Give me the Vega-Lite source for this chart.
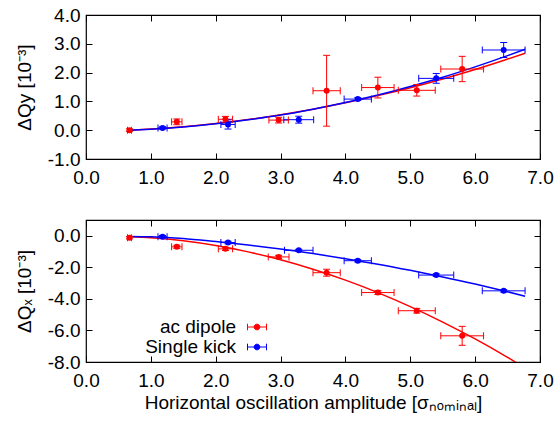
{
  "$schema": "https://vega.github.io/schema/vega-lite/v6.json",
  "padding": {"left": 15, "top": 5, "right": 10, "bottom": 6},
  "config": {
    "font": "Liberation Sans",
    "view": {"stroke": "black", "strokeWidth": 1.2},
    "axis": {"grid": false, "domain": false, "labelFont": "Liberation Sans", "labelFontSize": 19, "labelColor": "black", "titleFont": "Liberation Sans", "titleFontSize": 19, "titleFontWeight": "normal", "titleColor": "black", "tickColor": "black", "tickSize": -6, "labelFlush": false, "labelOverlap": false},
    "axisX": {"labelPadding": 15},
    "axisY": {"labelPadding": 12},
    "legend": {"labelFont": "Liberation Sans", "labelFontSize": 19, "labelColor": "black"}
  },
  "datasets": {
    "pts": [
      {"panel": "y", "series": "ac dipole", "amp": 0.67, "dq": 0.0, "xlo": 0.64, "xhi": 0.70, "ylo": -0.05, "yhi": 0.05},
      {"panel": "y", "series": "ac dipole", "amp": 1.40, "dq": 0.29, "xlo": 1.32, "xhi": 1.48, "ylo": 0.19, "yhi": 0.39},
      {"panel": "y", "series": "ac dipole", "amp": 2.15, "dq": 0.38, "xlo": 2.04, "xhi": 2.26, "ylo": 0.28, "yhi": 0.48},
      {"panel": "y", "series": "ac dipole", "amp": 2.97, "dq": 0.35, "xlo": 2.82, "xhi": 3.12, "ylo": 0.25, "yhi": 0.45},
      {"panel": "y", "series": "ac dipole", "amp": 3.71, "dq": 1.37, "xlo": 3.50, "xhi": 3.92, "ylo": 0.14, "yhi": 2.60},
      {"panel": "y", "series": "ac dipole", "amp": 4.50, "dq": 1.48, "xlo": 4.25, "xhi": 4.75, "ylo": 1.12, "yhi": 1.84},
      {"panel": "y", "series": "ac dipole", "amp": 5.10, "dq": 1.385, "xlo": 4.815, "xhi": 5.385, "ylo": 1.185, "yhi": 1.585},
      {"panel": "y", "series": "ac dipole", "amp": 5.80, "dq": 2.125, "xlo": 5.47, "xhi": 6.13, "ylo": 1.685, "yhi": 2.565},
      {"panel": "y", "series": "Single kick", "amp": 1.18, "dq": 0.08, "xlo": 1.11, "xhi": 1.25, "ylo": 0.04, "yhi": 0.12},
      {"panel": "y", "series": "Single kick", "amp": 2.19, "dq": 0.20, "xlo": 2.08, "xhi": 2.30, "ylo": 0.04, "yhi": 0.36},
      {"panel": "y", "series": "Single kick", "amp": 3.28, "dq": 0.365, "xlo": 3.05, "xhi": 3.51, "ylo": 0.245, "yhi": 0.485},
      {"panel": "y", "series": "Single kick", "amp": 4.19, "dq": 1.08, "xlo": 3.98, "xhi": 4.40, "ylo": 1.03, "yhi": 1.13},
      {"panel": "y", "series": "Single kick", "amp": 5.40, "dq": 1.80, "xlo": 5.13, "xhi": 5.67, "ylo": 1.63, "yhi": 1.97},
      {"panel": "y", "series": "Single kick", "amp": 6.44, "dq": 2.785, "xlo": 6.11, "xhi": 6.77, "ylo": 2.525, "yhi": 3.045},
      {"panel": "x", "series": "ac dipole", "amp": 0.67, "dq": -0.12, "xlo": 0.64, "xhi": 0.70, "ylo": -0.20, "yhi": -0.04},
      {"panel": "x", "series": "ac dipole", "amp": 1.40, "dq": -0.70, "xlo": 1.32, "xhi": 1.48, "ylo": -0.80, "yhi": -0.60},
      {"panel": "x", "series": "ac dipole", "amp": 2.15, "dq": -0.83, "xlo": 2.04, "xhi": 2.26, "ylo": -0.93, "yhi": -0.73},
      {"panel": "x", "series": "ac dipole", "amp": 2.97, "dq": -1.34, "xlo": 2.81, "xhi": 3.13, "ylo": -1.44, "yhi": -1.24},
      {"panel": "x", "series": "ac dipole", "amp": 3.71, "dq": -2.34, "xlo": 3.50, "xhi": 3.92, "ylo": -2.56, "yhi": -2.12},
      {"panel": "x", "series": "ac dipole", "amp": 4.50, "dq": -3.60, "xlo": 4.25, "xhi": 4.75, "ylo": -3.72, "yhi": -3.48},
      {"panel": "x", "series": "ac dipole", "amp": 5.10, "dq": -4.75, "xlo": 4.815, "xhi": 5.385, "ylo": -4.90, "yhi": -4.60},
      {"panel": "x", "series": "ac dipole", "amp": 5.80, "dq": -6.34, "xlo": 5.47, "xhi": 6.13, "ylo": -6.94, "yhi": -5.74},
      {"panel": "x", "series": "Single kick", "amp": 1.18, "dq": -0.06, "xlo": 1.11, "xhi": 1.25, "ylo": -0.14, "yhi": 0.02},
      {"panel": "x", "series": "Single kick", "amp": 2.19, "dq": -0.43, "xlo": 2.08, "xhi": 2.30, "ylo": -0.51, "yhi": -0.35},
      {"panel": "x", "series": "Single kick", "amp": 3.28, "dq": -0.92, "xlo": 3.06, "xhi": 3.50, "ylo": -0.98, "yhi": -0.86},
      {"panel": "x", "series": "Single kick", "amp": 4.19, "dq": -1.58, "xlo": 3.98, "xhi": 4.40, "ylo": -1.66, "yhi": -1.50},
      {"panel": "x", "series": "Single kick", "amp": 5.40, "dq": -2.49, "xlo": 5.13, "xhi": 5.67, "ylo": -2.57, "yhi": -2.41},
      {"panel": "x", "series": "Single kick", "amp": 6.44, "dq": -3.49, "xlo": 6.11, "xhi": 6.77, "ylo": -3.57, "yhi": -3.41}
    ],
    "fits": [
      {"panel": "y", "series": "ac dipole", "amp": 0.67, "dq": 0.0},
      {"panel": "y", "series": "ac dipole", "amp": 1.0, "dq": 0.04},
      {"panel": "y", "series": "ac dipole", "amp": 1.5, "dq": 0.12},
      {"panel": "y", "series": "ac dipole", "amp": 2.0, "dq": 0.23},
      {"panel": "y", "series": "ac dipole", "amp": 2.5, "dq": 0.37},
      {"panel": "y", "series": "ac dipole", "amp": 3.0, "dq": 0.54},
      {"panel": "y", "series": "ac dipole", "amp": 3.5, "dq": 0.73},
      {"panel": "y", "series": "ac dipole", "amp": 4.0, "dq": 0.95},
      {"panel": "y", "series": "ac dipole", "amp": 4.5, "dq": 1.20},
      {"panel": "y", "series": "ac dipole", "amp": 5.0, "dq": 1.475},
      {"panel": "y", "series": "ac dipole", "amp": 5.5, "dq": 1.78},
      {"panel": "y", "series": "ac dipole", "amp": 6.0, "dq": 2.11},
      {"panel": "y", "series": "ac dipole", "amp": 6.5, "dq": 2.47},
      {"panel": "y", "series": "ac dipole", "amp": 6.77, "dq": 2.67},
      {"panel": "y", "series": "Single kick", "amp": 0.67, "dq": 0.0},
      {"panel": "y", "series": "Single kick", "amp": 1.0, "dq": 0.033},
      {"panel": "y", "series": "Single kick", "amp": 1.5, "dq": 0.11},
      {"panel": "y", "series": "Single kick", "amp": 2.0, "dq": 0.22},
      {"panel": "y", "series": "Single kick", "amp": 2.5, "dq": 0.36},
      {"panel": "y", "series": "Single kick", "amp": 3.0, "dq": 0.525},
      {"panel": "y", "series": "Single kick", "amp": 3.5, "dq": 0.73},
      {"panel": "y", "series": "Single kick", "amp": 4.0, "dq": 0.96},
      {"panel": "y", "series": "Single kick", "amp": 4.5, "dq": 1.22},
      {"panel": "y", "series": "Single kick", "amp": 5.0, "dq": 1.52},
      {"panel": "y", "series": "Single kick", "amp": 5.5, "dq": 1.84},
      {"panel": "y", "series": "Single kick", "amp": 6.0, "dq": 2.20},
      {"panel": "y", "series": "Single kick", "amp": 6.5, "dq": 2.59},
      {"panel": "y", "series": "Single kick", "amp": 6.77, "dq": 2.81},
      {"panel": "x", "series": "ac dipole", "amp": 0.67, "dq": -0.06},
      {"panel": "x", "series": "ac dipole", "amp": 1.0, "dq": -0.13},
      {"panel": "x", "series": "ac dipole", "amp": 1.5, "dq": -0.32},
      {"panel": "x", "series": "ac dipole", "amp": 2.0, "dq": -0.62},
      {"panel": "x", "series": "ac dipole", "amp": 2.5, "dq": -1.02},
      {"panel": "x", "series": "ac dipole", "amp": 3.0, "dq": -1.52},
      {"panel": "x", "series": "ac dipole", "amp": 3.5, "dq": -2.12},
      {"panel": "x", "series": "ac dipole", "amp": 4.0, "dq": -2.81},
      {"panel": "x", "series": "ac dipole", "amp": 4.5, "dq": -3.60},
      {"panel": "x", "series": "ac dipole", "amp": 5.0, "dq": -4.49},
      {"panel": "x", "series": "ac dipole", "amp": 5.5, "dq": -5.47},
      {"panel": "x", "series": "ac dipole", "amp": 6.0, "dq": -6.54},
      {"panel": "x", "series": "ac dipole", "amp": 6.5, "dq": -7.71},
      {"panel": "x", "series": "ac dipole", "amp": 6.77, "dq": -8.38},
      {"panel": "x", "series": "Single kick", "amp": 0.67, "dq": -0.04},
      {"panel": "x", "series": "Single kick", "amp": 1.0, "dq": -0.06},
      {"panel": "x", "series": "Single kick", "amp": 1.5, "dq": -0.17},
      {"panel": "x", "series": "Single kick", "amp": 2.0, "dq": -0.37},
      {"panel": "x", "series": "Single kick", "amp": 2.5, "dq": -0.59},
      {"panel": "x", "series": "Single kick", "amp": 3.0, "dq": -0.84},
      {"panel": "x", "series": "Single kick", "amp": 3.5, "dq": -1.13},
      {"panel": "x", "series": "Single kick", "amp": 4.0, "dq": -1.45},
      {"panel": "x", "series": "Single kick", "amp": 4.5, "dq": -1.80},
      {"panel": "x", "series": "Single kick", "amp": 5.0, "dq": -2.19},
      {"panel": "x", "series": "Single kick", "amp": 5.5, "dq": -2.61},
      {"panel": "x", "series": "Single kick", "amp": 6.0, "dq": -3.06},
      {"panel": "x", "series": "Single kick", "amp": 6.5, "dq": -3.55},
      {"panel": "x", "series": "Single kick", "amp": 6.77, "dq": -3.83}
    ]
  },
  "spacing": 30,
  "resolve": {"legend": {"color": "independent"}},
  "vconcat": [
    {
      "width": 454,
      "height": 144,
      "resolve": {"axis": {"x": "independent", "y": "independent"}},
      "layer": [
        {
          "data": {"name": "fits"},
          "transform": [{"filter": "datum.panel == 'y'"}],
          "mark": {"type": "line", "strokeWidth": 1.5, "clip": true, "interpolate": "monotone"},
          "encoding": {
            "x": {"field": "amp", "type": "quantitative", "scale": {"domain": [0, 7], "nice": false}, "axis": {"orient": "top", "values": [0, 1, 2, 3, 4, 5, 6, 7], "labels": false, "title": null}},
            "y": {"field": "dq", "type": "quantitative", "scale": {"domain": [-1, 4], "nice": false, "zero": false}, "axis": {"orient": "right", "values": [-1, 0, 1, 2, 3, 4], "labels": false, "title": null}},
            "color": {"field": "series", "type": "nominal", "scale": {"domain": ["ac dipole", "Single kick"], "range": ["#ff0000", "#0000ff"]}, "legend": null}
          }
        },
        {
          "data": {"name": "pts"},
          "transform": [{"filter": "datum.panel == 'y'"}],
          "mark": {"type": "rule", "strokeWidth": 1},
          "encoding": {
            "x": {"field": "xlo", "type": "quantitative", "axis": null},
            "x2": {"field": "xhi"},
            "y": {"field": "dq", "type": "quantitative", "axis": null},
            "color": {"field": "series", "type": "nominal", "legend": null}
          }
        },
        {
          "data": {"name": "pts"},
          "transform": [{"filter": "datum.panel == 'y'"}],
          "mark": {"type": "rule", "strokeWidth": 1},
          "encoding": {
            "x": {"field": "amp", "type": "quantitative", "axis": null},
            "y": {"field": "ylo", "type": "quantitative", "axis": null},
            "y2": {"field": "yhi"},
            "color": {"field": "series", "type": "nominal", "legend": null}
          }
        },
        {
          "data": {"name": "pts"},
          "transform": [{"filter": "datum.panel == 'y'"}],
          "mark": {"type": "tick", "orient": "vertical", "size": 7, "thickness": 1, "opacity": 1},
          "encoding": {
            "x": {"field": "xlo", "type": "quantitative", "axis": null},
            "y": {"field": "dq", "type": "quantitative", "axis": null},
            "color": {"field": "series", "type": "nominal", "legend": null}
          }
        },
        {
          "data": {"name": "pts"},
          "transform": [{"filter": "datum.panel == 'y'"}],
          "mark": {"type": "tick", "orient": "vertical", "size": 7, "thickness": 1, "opacity": 1},
          "encoding": {
            "x": {"field": "xhi", "type": "quantitative", "axis": null},
            "y": {"field": "dq", "type": "quantitative", "axis": null},
            "color": {"field": "series", "type": "nominal", "legend": null}
          }
        },
        {
          "data": {"name": "pts"},
          "transform": [{"filter": "datum.panel == 'y'"}],
          "mark": {"type": "tick", "orient": "horizontal", "size": 7, "thickness": 1, "opacity": 1},
          "encoding": {
            "x": {"field": "amp", "type": "quantitative", "axis": null},
            "y": {"field": "ylo", "type": "quantitative", "axis": null},
            "color": {"field": "series", "type": "nominal", "legend": null}
          }
        },
        {
          "data": {"name": "pts"},
          "transform": [{"filter": "datum.panel == 'y'"}],
          "mark": {"type": "tick", "orient": "horizontal", "size": 7, "thickness": 1, "opacity": 1},
          "encoding": {
            "x": {"field": "amp", "type": "quantitative", "axis": null},
            "y": {"field": "yhi", "type": "quantitative", "axis": null},
            "color": {"field": "series", "type": "nominal", "legend": null}
          }
        },
        {
          "data": {"name": "pts"},
          "transform": [{"filter": "datum.panel == 'y'"}],
          "mark": {"type": "point", "filled": true, "size": 36, "opacity": 1, "shape": "circle"},
          "encoding": {
            "x": {"field": "amp", "type": "quantitative", "axis": {"orient": "bottom", "values": [0, 1, 2, 3, 4, 5, 6, 7], "labelExpr": "(datum.value < 0 ? '-' : '') + format(abs(datum.value), '.1f')", "title": null}},
            "y": {"field": "dq", "type": "quantitative", "axis": {"orient": "left", "values": [-1, 0, 1, 2, 3, 4], "labelExpr": "(datum.value < 0 ? '-' : '') + format(abs(datum.value), '.1f')", "title": "ΔQy [10⁻³]", "titlePadding": 12.5}},
            "color": {"field": "series", "type": "nominal", "legend": null}
          }
        }
      ]
    },
    {
      "width": 454,
      "height": 142,
      "resolve": {"axis": {"x": "independent", "y": "independent"}},
      "layer": [
        {
          "data": {"name": "fits"},
          "transform": [{"filter": "datum.panel == 'x'"}],
          "mark": {"type": "line", "strokeWidth": 1.5, "clip": true, "interpolate": "monotone"},
          "encoding": {
            "x": {"field": "amp", "type": "quantitative", "scale": {"domain": [0, 7], "nice": false}, "axis": {"orient": "top", "values": [0, 1, 2, 3, 4, 5, 6, 7], "labels": false, "title": null}},
            "y": {"field": "dq", "type": "quantitative", "scale": {"domain": [-8, 1], "nice": false, "zero": false}, "axis": {"orient": "right", "values": [-8, -6, -4, -2, 0], "labels": false, "title": null}},
            "color": {"field": "series", "type": "nominal", "scale": {"domain": ["ac dipole", "Single kick"], "range": ["#ff0000", "#0000ff"]}, "legend": {"title": null, "orient": "none", "legendX": 161, "legendY": 97, "symbolType": "M-1,0H1M-1,-0.35V0.35M1,-0.35V0.35M-0.3,0A0.3,0.3,0,1,1,0.3,0A0.3,0.3,0,1,1,-0.3,0Z", "symbolSize": 360, "symbolStrokeWidth": 1, "labelAlign": "right", "labelOffset": -31, "rowPadding": 0}}
          }
        },
        {
          "data": {"name": "pts"},
          "transform": [{"filter": "datum.panel == 'x'"}],
          "mark": {"type": "rule", "strokeWidth": 1},
          "encoding": {
            "x": {"field": "xlo", "type": "quantitative", "axis": null},
            "x2": {"field": "xhi"},
            "y": {"field": "dq", "type": "quantitative", "axis": null},
            "color": {"field": "series", "type": "nominal"}
          }
        },
        {
          "data": {"name": "pts"},
          "transform": [{"filter": "datum.panel == 'x'"}],
          "mark": {"type": "rule", "strokeWidth": 1},
          "encoding": {
            "x": {"field": "amp", "type": "quantitative", "axis": null},
            "y": {"field": "ylo", "type": "quantitative", "axis": null},
            "y2": {"field": "yhi"},
            "color": {"field": "series", "type": "nominal"}
          }
        },
        {
          "data": {"name": "pts"},
          "transform": [{"filter": "datum.panel == 'x'"}],
          "mark": {"type": "tick", "orient": "vertical", "size": 7, "thickness": 1, "opacity": 1},
          "encoding": {
            "x": {"field": "xlo", "type": "quantitative", "axis": null},
            "y": {"field": "dq", "type": "quantitative", "axis": null},
            "color": {"field": "series", "type": "nominal"}
          }
        },
        {
          "data": {"name": "pts"},
          "transform": [{"filter": "datum.panel == 'x'"}],
          "mark": {"type": "tick", "orient": "vertical", "size": 7, "thickness": 1, "opacity": 1},
          "encoding": {
            "x": {"field": "xhi", "type": "quantitative", "axis": null},
            "y": {"field": "dq", "type": "quantitative", "axis": null},
            "color": {"field": "series", "type": "nominal"}
          }
        },
        {
          "data": {"name": "pts"},
          "transform": [{"filter": "datum.panel == 'x'"}],
          "mark": {"type": "tick", "orient": "horizontal", "size": 7, "thickness": 1, "opacity": 1},
          "encoding": {
            "x": {"field": "amp", "type": "quantitative", "axis": null},
            "y": {"field": "ylo", "type": "quantitative", "axis": null},
            "color": {"field": "series", "type": "nominal"}
          }
        },
        {
          "data": {"name": "pts"},
          "transform": [{"filter": "datum.panel == 'x'"}],
          "mark": {"type": "tick", "orient": "horizontal", "size": 7, "thickness": 1, "opacity": 1},
          "encoding": {
            "x": {"field": "amp", "type": "quantitative", "axis": null},
            "y": {"field": "yhi", "type": "quantitative", "axis": null},
            "color": {"field": "series", "type": "nominal"}
          }
        },
        {
          "data": {"name": "pts"},
          "transform": [{"filter": "datum.panel == 'x'"}],
          "mark": {"type": "point", "filled": true, "size": 36, "opacity": 1, "shape": "circle"},
          "encoding": {
            "x": {"field": "amp", "type": "quantitative", "axis": {"orient": "bottom", "values": [0, 1, 2, 3, 4, 5, 6, 7], "labelExpr": "(datum.value < 0 ? '-' : '') + format(abs(datum.value), '.1f')", "title": "Horizontal oscillation amplitude [σₙₒₘᵢₙₐₗ]", "titlePadding": 3}},
            "y": {"field": "dq", "type": "quantitative", "axis": {"orient": "left", "values": [-8, -6, -4, -2, 0], "labelExpr": "(datum.value < 0 ? '-' : '') + format(abs(datum.value), '.1f')", "title": "ΔQₓ [10⁻³]", "titlePadding": 12.5}},
            "color": {"field": "series", "type": "nominal"}
          }
        }
      ]
    }
  ]
}
